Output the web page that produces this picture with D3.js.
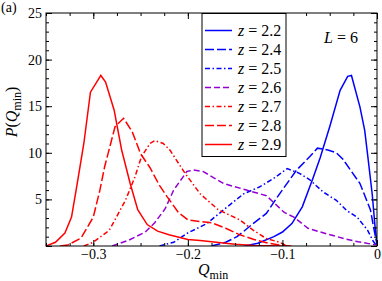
<!DOCTYPE html>
<html>
<head>
<meta charset="utf-8">
<script src="https://cdn.jsdelivr.net/npm/d3@7"></script>
<style>
  body { margin: 0; background: #fff; }
  svg { display: block; }
</style>
</head>
<body>
<svg id="chart" width="382" height="281"></svg>
<script>
// curves: Q_min values and P(Q_min) values for each z
const q22 = [-0.14, -0.126, -0.109, -0.1, -0.09, -0.079, -0.068, -0.06, -0.05, -0.039, -0.031, -0.027, -0.018, -0.013, -0.009, -0.005, -0.002, 0];
const p22 = [0, 0.3, 1.0, 1.5, 2.4, 4.2, 7.2, 9.5, 12.8, 16.7, 18.2, 18.3, 14.9, 12.4, 9.0, 5.5, 2.0, 0.3];

const q24 = [-0.175, -0.16, -0.148, -0.131, -0.117, -0.103, -0.085, -0.071, -0.063, -0.052, -0.043, -0.036, -0.027, -0.018, -0.007, -0.003, 0];
const p24 = [0, 0.4, 1.0, 2.4, 3.5, 5.6, 8.15, 9.6, 10.5, 10.3, 10.0, 9.3, 8.0, 6.7, 3.9, 1.7, 0.2];

const q25 = [-0.23, -0.215, -0.2, -0.18, -0.162, -0.141, -0.125, -0.11, -0.095, -0.082, -0.071, -0.057, -0.043, -0.032, -0.021, -0.01, -0.004, 0];
const p25 = [0, 0.4, 1.4, 2.4, 3.9, 5.6, 6.3, 7.2, 8.3, 7.8, 7.1, 5.8, 4.9, 3.8, 3.1, 1.7, 0.5, 0];

const q26 = [-0.28, -0.263, -0.245, -0.235, -0.224, -0.215, -0.201, -0.194, -0.184, -0.162, -0.138, -0.117, -0.098, -0.088, -0.073, -0.053, -0.035, -0.02, 0];
const p26 = [0, 0.6, 1.5, 2.5, 4.0, 6.0, 8.0, 8.15, 8.0, 6.7, 6.0, 5.4, 3.6, 3.1, 1.9, 1.3, 0.8, 0.45, 0.1];

const q27 = [-0.31, -0.3, -0.283, -0.266, -0.256, -0.249, -0.24, -0.235, -0.226, -0.219, -0.203, -0.187, -0.168, -0.145, -0.131, -0.117, -0.103, -0.095];
const p27 = [0, 0.4, 1.7, 4.9, 7.4, 9.6, 11.0, 11.3, 11.0, 10.3, 7.8, 5.6, 3.9, 2.8, 1.7, 0.8, 0.4, 0];

const q28 = [-0.335, -0.327, -0.313, -0.3, -0.293, -0.288, -0.277, -0.268, -0.259, -0.25, -0.24, -0.23, -0.222, -0.21, -0.2, -0.185, -0.175, -0.16, -0.145, -0.13, -0.115, -0.1, -0.09];
const p28 = [0, 0.1, 0.85, 3.1, 6.0, 8.5, 12.8, 13.7, 12.3, 9.9, 8.4, 6.5, 5.3, 3.6, 2.8, 2.6, 2.5, 1.9, 1.2, 0.7, 0.3, 0.05, 0];

const q29 = [-0.35, -0.34, -0.33, -0.323, -0.317, -0.31, -0.303, -0.292, -0.287, -0.278, -0.27, -0.261, -0.253, -0.243, -0.232, -0.22, -0.2, -0.187, -0.17, -0.15, -0.13, -0.1];
const p29 = [0, 0.4, 1.4, 3.1, 6.7, 11.0, 16.5, 18.3, 17.6, 14.6, 10.3, 6.7, 3.9, 2.3, 1.6, 1.2, 0.7, 0.6, 0.4, 0.2, 0.05, 0];

const zLabels = ["2.2", "2.4", "2.5", "2.6", "2.7", "2.8", "2.9"];
const qSeries = [q22, q24, q25, q26, q27, q28, q29];
const pSeries = [p22, p24, p25, p26, p27, p28, p29];

const xTicks = [-0.3, -0.2, -0.1, 0];
const yTicks = [0, 5, 10, 15, 20, 25];

// styles per curve
const colors = ["#0000ff", "#0000ff", "#0000ff", "#9400d3", "#ff0000", "#ff0000", "#ff0000"];
const dashes = [null, "9,3", "5,2.5,1.5,2.5", "6,3", "5,2.5,1.5,2.5", "9,3", null];

const FONT = "Liberation Serif";

const svg = d3.select("#chart").attr("font-family", FONT);
const margin = { top: 13, right: 5, bottom: 35, left: 46 };
const W = 382, H = 281;

const x = d3.scaleLinear().domain([-0.35, 0]).range([margin.left, W - margin.right]);
const y = d3.scaleLinear().domain([0, 25]).range([H - margin.bottom, margin.top]);

svg.append("clipPath").attr("id", "plot-clip")
    .append("rect")
    .attr("x", margin.left).attr("y", margin.top)
    .attr("width", x(0) - margin.left).attr("height", y(0) - margin.top);

// curves
const line = d3.line().x(d => x(d[0])).y(d => y(d[1]));
const curves = svg.append("g").attr("clip-path", "url(#plot-clip)");
qSeries.forEach((qs, i) => {
    const pts = qs.map((q, j) => [q, pSeries[i][j]]);
    curves.append("path")
        .attr("d", line(pts))
        .attr("fill", "none")
        .attr("stroke", colors[i])
        .attr("stroke-width", 1.5)
        .attr("stroke-dasharray", dashes[i]);
});

// axes, ticks pointing inward on all four sides
const minorX = d3.range(-0.35, 0.0001, 0.025);
const minorY = d3.range(0, 25.001, 1);

function styleAxis(g) {
    g.attr("font-family", FONT);
    g.select(".domain").remove();
    g.selectAll("line").attr("stroke", "#000");
    g.selectAll("text").attr("font-size", 14).attr("fill", "#000");
}

svg.append("g").attr("transform", `translate(0,${y(0)})`)
    .call(d3.axisBottom(x).tickValues(xTicks).tickSizeInner(-6).tickSizeOuter(0).tickPadding(3)
        .tickFormat(d => d === 0 ? "0" : d3.format(".1f")(d)))
    .call(styleAxis);
svg.append("g").attr("transform", `translate(0,${y(0)})`)
    .call(d3.axisBottom(x).tickValues(minorX).tickSize(-3).tickFormat(""))
    .call(styleAxis);
svg.append("g").attr("transform", `translate(0,${y(25)})`)
    .call(d3.axisTop(x).tickValues(xTicks).tickSize(-6).tickFormat(""))
    .call(styleAxis);
svg.append("g").attr("transform", `translate(0,${y(25)})`)
    .call(d3.axisTop(x).tickValues(minorX).tickSize(-3).tickFormat(""))
    .call(styleAxis);

svg.append("g").attr("transform", `translate(${x(-0.35)},0)`)
    .call(d3.axisLeft(y).tickValues(yTicks).tickSizeInner(-6).tickSizeOuter(0).tickPadding(4)
        .tickFormat(d => d === 0 ? "" : d))
    .call(styleAxis);
svg.append("g").attr("transform", `translate(${x(-0.35)},0)`)
    .call(d3.axisLeft(y).tickValues(minorY).tickSize(-3).tickFormat(""))
    .call(styleAxis);
svg.append("g").attr("transform", `translate(${x(0)},0)`)
    .call(d3.axisRight(y).tickValues(yTicks).tickSize(-6).tickFormat(""))
    .call(styleAxis);
svg.append("g").attr("transform", `translate(${x(0)},0)`)
    .call(d3.axisRight(y).tickValues(minorY).tickSize(-3).tickFormat(""))
    .call(styleAxis);

// frame
svg.append("rect")
    .attr("x", x(-0.35)).attr("y", y(25))
    .attr("width", x(0) - x(-0.35)).attr("height", y(0) - y(25))
    .attr("fill", "none").attr("stroke", "#000").attr("stroke-width", 1);

// axis titles
svg.append("text")
    .attr("x", 198).attr("y", 275)
    .attr("font-size", 16)
    .html('<tspan font-style="italic">Q</tspan><tspan font-size="12" dy="4">min</tspan>');

svg.append("text")
    .attr("transform", "translate(17,112) rotate(-90)")
    .attr("text-anchor", "middle")
    .attr("font-size", 16)
    .html('<tspan font-style="italic">P</tspan>(<tspan font-style="italic">Q</tspan><tspan font-size="12" dy="4">min</tspan><tspan dy="-4">)</tspan>');

svg.append("text").attr("x", 1).attr("y", 12).attr("font-size", 14).text("(a)");

svg.append("text")
    .attr("x", 324).attr("y", 43)
    .attr("font-size", 16)
    .html('<tspan font-style="italic">L</tspan> = 6');

// legend
const legend = svg.append("g");
legend.append("rect")
    .attr("x", 202).attr("y", y(25) + 0.5)
    .attr("width", 84).attr("height", 143)
    .attr("fill", "#fff").attr("stroke", "#000").attr("stroke-width", 1);

zLabels.forEach((z, i) => {
    const ly = 30.5 + i * 19;
    legend.append("line")
        .attr("x1", 205).attr("x2", 232)
        .attr("y1", ly).attr("y2", ly)
        .attr("stroke", colors[i]).attr("stroke-width", 1.5)
        .attr("stroke-dasharray", dashes[i]);
    legend.append("text")
        .attr("x", 238).attr("y", ly + 5)
        .attr("font-size", 16)
        .html(`<tspan font-style="italic">z</tspan> = ${z}`);
});
</script>
</body>
</html>
